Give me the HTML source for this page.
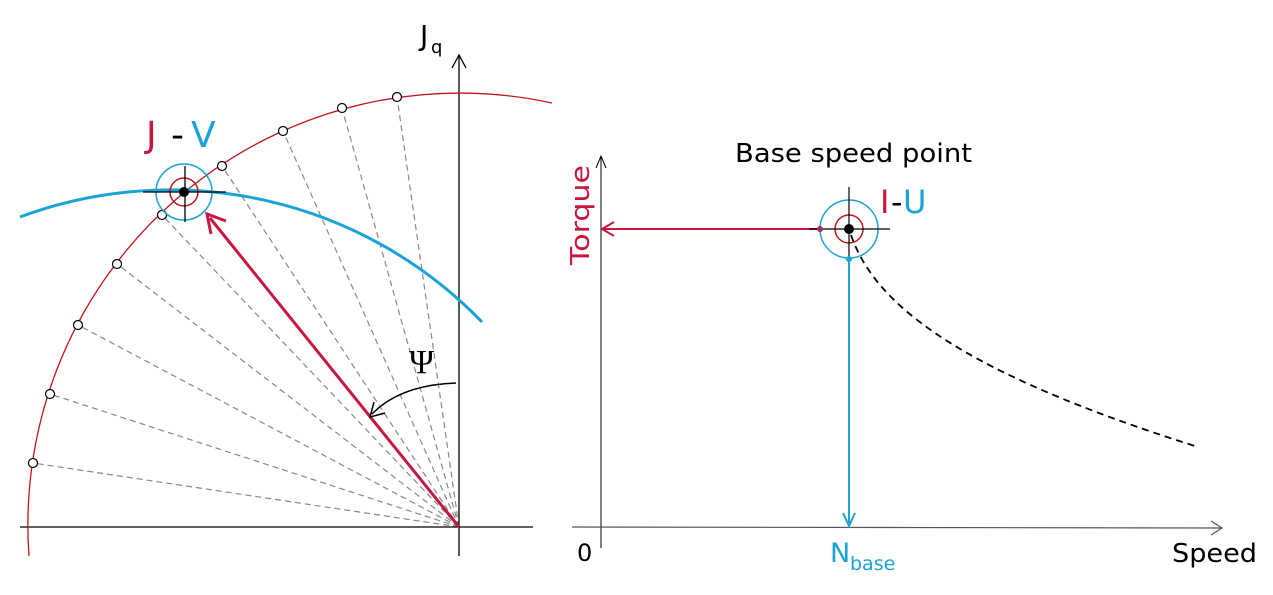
<!DOCTYPE html>
<html><head><meta charset="utf-8"><style>
html,body{margin:0;padding:0;background:#fff;}
svg{display:block;}
text{font-family:"DejaVu Sans","Liberation Sans",sans-serif;}
</style></head><body>
<svg width="1273" height="595" viewBox="0 0 1273 595" xmlns="http://www.w3.org/2000/svg">
<g stroke="#888" stroke-width="1.2" stroke-dasharray="6,4" fill="none">
<line x1="459" y1="527" x2="397" y2="97"/>
<line x1="459" y1="527" x2="342" y2="108"/>
<line x1="459" y1="527" x2="283" y2="131"/>
<line x1="459" y1="527" x2="222" y2="166"/>
<line x1="459" y1="527" x2="162" y2="215"/>
<line x1="459" y1="527" x2="117" y2="264"/>
<line x1="459" y1="527" x2="78" y2="325"/>
<line x1="459" y1="527" x2="50" y2="394"/>
<line x1="459" y1="527" x2="33" y2="463"/>
</g>
<line x1="20" y1="527" x2="533" y2="527" stroke="#000" stroke-width="1.3"/>
<line x1="459" y1="556" x2="459" y2="56" stroke="#000" stroke-width="1.3"/>
<polyline points="452,68 459,55 466,68" fill="none" stroke="#000" stroke-width="1.3"/>
<text x="420" y="45" font-size="28" fill="#000">J</text>
<text x="431" y="53" font-size="18" fill="#000">q</text>
<path d="M29,556 A432,432 0 0 1 552,103" fill="none" stroke="#c0161c" stroke-width="1.3"/>
<path d="M20,217 A433,433 0 0 1 482,322" fill="none" stroke="#1aa3d6" stroke-width="3"/>
<g fill="#fff" stroke="#000" stroke-width="1.2">
<circle cx="397" cy="97" r="4.5"/><circle cx="342" cy="108" r="4.5"/><circle cx="283" cy="131" r="4.5"/>
<circle cx="222" cy="166" r="4.5"/><circle cx="162" cy="215" r="4.5"/><circle cx="117" cy="264" r="4.5"/>
<circle cx="78" cy="325" r="4.5"/><circle cx="50" cy="394" r="4.5"/><circle cx="33" cy="463" r="4.5"/>
</g>
<circle cx="184" cy="192" r="28" fill="none" stroke="#1aa3d6" stroke-width="1.5"/>
<circle cx="184" cy="192" r="14" fill="none" stroke="#c0161c" stroke-width="1.5"/>
<line x1="143" y1="192" x2="226" y2="192" stroke="#000" stroke-width="1.3"/>
<line x1="185" y1="166" x2="185" y2="222" stroke="#000" stroke-width="1.3"/>
<circle cx="184" cy="192" r="5" fill="#000"/>
<text x="146" y="147" font-size="36" fill="#c8163f">J</text>
<text x="171" y="147" font-size="36" fill="#000">-</text>
<text x="191" y="147" font-size="36" fill="#1aa3d6">V</text>
<line x1="459" y1="527" x2="210" y2="218" stroke="#c8163f" stroke-width="3"/>
<polyline points="211,234 207,214 226,221" fill="none" stroke="#c8163f" stroke-width="3"/>
<path d="M456,383 Q400,385 372,414" fill="none" stroke="#000" stroke-width="1.5"/>
<polyline points="374,402 370,417 385,413" fill="none" stroke="#000" stroke-width="1.5"/>
<text x="409" y="373" font-size="34" fill="#000" style="font-family:'Liberation Serif',serif">Ψ</text>

<line x1="601" y1="548" x2="601" y2="157" stroke="#000" stroke-width="1"/>
<polyline points="596,168 601,156 606,168" fill="none" stroke="#000" stroke-width="1"/>
<line x1="572" y1="527" x2="1222" y2="528" stroke="#555" stroke-width="1.2"/>
<polyline points="1211,521 1222,528 1211,535" fill="none" stroke="#555" stroke-width="1.2"/>
<text x="735" y="162" font-size="26" fill="#000" textLength="237" lengthAdjust="spacingAndGlyphs">Base speed point</text>
<text x="0" y="0" font-size="26" fill="#c8163f" transform="translate(589,265) rotate(-90)" textLength="100" lengthAdjust="spacingAndGlyphs">Torque</text>
<text x="577" y="561" font-size="24" fill="#000">0</text>
<text x="1172" y="562" font-size="26" fill="#000" textLength="85" lengthAdjust="spacingAndGlyphs">Speed</text>
<text x="830" y="562" font-size="27" fill="#1aa3d6">N</text>
<text x="850" y="570" font-size="19" fill="#1aa3d6">base</text>
<path d="M851,235 C875,305 960,372 1198,447" fill="none" stroke="#000" stroke-width="1.8" stroke-dasharray="7,5"/>
<line x1="820" y1="229" x2="603" y2="229" stroke="#c8163f" stroke-width="2"/>
<polyline points="614,222 602,229 614,236" fill="none" stroke="#c8163f" stroke-width="2"/>
<line x1="849" y1="259" x2="849" y2="525" stroke="#1aa3d6" stroke-width="2"/>
<polyline points="843,513 849,526 855,513" fill="none" stroke="#1aa3d6" stroke-width="2"/>
<circle cx="849" cy="229" r="29" fill="none" stroke="#1aa3d6" stroke-width="1.5"/>
<circle cx="849" cy="229" r="14" fill="none" stroke="#c0161c" stroke-width="1.5"/>
<line x1="809" y1="229" x2="890" y2="229" stroke="#000" stroke-width="1.2"/>
<line x1="849" y1="187" x2="849" y2="259" stroke="#000" stroke-width="1.2"/>
<circle cx="849" cy="229" r="5" fill="#000"/>
<circle cx="820" cy="229" r="3" fill="#a0305a"/>
<circle cx="849" cy="259" r="3" fill="#1aa3d6"/>
<text x="880" y="213" font-size="32" fill="#c8163f">I</text>
<text x="891" y="213" font-size="32" fill="#000">-</text>
<text x="903" y="213" font-size="32" fill="#1aa3d6">U</text>
</svg>
</body></html>
